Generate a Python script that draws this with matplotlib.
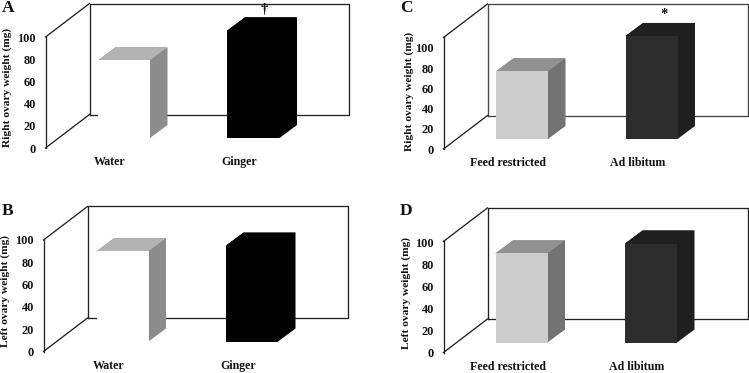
import matplotlib
matplotlib.use("Agg")
import matplotlib.pyplot as plt
from matplotlib.patches import Polygon, Rectangle

plt.rcParams['font.family'] = ['Liberation Serif', 'DejaVu Serif']
plt.rcParams['font.weight'] = 'bold'

W, H = 749, 373
water_ginger = ["Water", "Ginger"]
feed_groups = ["Feed restricted", "Ad libitum"]
right_ginger = [70, 97]
left_ginger = [81, 86]
right_feed = [67, 102]
left_feed = [81, 90]
ticks = [0, 20, 40, 60, 80, 100]

DX, DY = 17.5, 13      # bar depth px
WDX, WDY = 44, 33.5    # wall depth px
BW = 52                # bar width px
STEP = 129.5           # category spacing px
BASE = 10              # bar floor offset px

panels = [
    dict(letter="A", lx=2, ly=8, labels=water_ginger, vals=right_ginger, ylabel="Right ovary weight (mg)",
         wx=45.5, wy=148, rx=349.5, ty=3.5, scale=1.11, walltop=100, b0=98, ylx=7, yly=87,
         cols=[("#ffffff", "#b3b3b3", "#8c8c8c"), ("#000000", "#000000", "#000000")],
         edge="#222222", mark="†", markgap=8, markdx=2.5),
    dict(letter="B", lx=2, ly=211, labels=water_ginger, vals=left_ginger, ylabel="Left ovary weight (mg)",
         wx=43.5, wy=351.5, rx=348, ty=206.5, scale=1.115, walltop=100, b0=96.5, ylx=5, yly=291,
         cols=[("#ffffff", "#b3b3b3", "#8c8c8c"), ("#000000", "#000000", "#000000")],
         edge="#222222", mark=None, markgap=0, markdx=0),
    dict(letter="C", lx=400, ly=8, labels=feed_groups, vals=right_feed, ylabel="Right ovary weight (mg)",
         wx=443.5, wy=149, rx=748, ty=4, scale=1.01, walltop=110.4, b0=496, ylx=409, yly=91,
         cols=[("#cccccc", "#919191", "#737373"), ("#2d2d2d", "#1f1f1f", "#1f1f1f")],
         edge="#444444", mark="*", markgap=8, markdx=3.5),
    dict(letter="D", lx=400, ly=211, labels=feed_groups, vals=left_feed, ylabel="Left ovary weight (mg)",
         wx=443.5, wy=352.5, rx=747.5, ty=207.5, scale=1.1, walltop=101, b0=495.5, ylx=406, yly=293,
         cols=[("#cccccc", "#919191", "#737373"), ("#2d2d2d", "#1f1f1f", "#1f1f1f")],
         edge="#222222", mark=None, markgap=0, markdx=0),
]

fig = plt.figure(figsize=(W / 100, H / 100), dpi=100, facecolor="white")

for p in panels:
    ax = fig.add_axes([p["wx"] / W, 1 - p["wy"] / H, (p["rx"] - p["wx"]) / W, (p["wy"] - p["ty"]) / H])
    c0 = p["b0"] + BW / 2
    xlim = ((p["wx"] - c0) / STEP, (p["rx"] - c0) / STEP)
    ax.set_xlim(*xlim)
    s = p["scale"]
    ax.set_ylim(0, (p["wy"] - p["ty"]) / s)
    ux, uy = 1 / STEP, 1 / s
    ax.patch.set_visible(False)
    for sp in ax.spines.values():
        sp.set_visible(False)

    x0, xb, xr = xlim[0], xlim[0] + WDX * ux, xlim[1]
    yb, yt = WDY * uy, p["walltop"] + WDY * uy
    lw = 0.95
    ax.plot([xb, xb, xr, xr, xb], [yb, yt, yt, yb, yb], color=p["edge"], lw=lw, clip_on=False, zorder=1)
    ax.plot([x0, xb], [0, yb], color="#222222", lw=lw, clip_on=False, zorder=1)
    ax.plot([x0, xb], [p["walltop"], yt], color="#222222", lw=lw, clip_on=False, zorder=1)
    ax.plot([x0, x0], [0, p["walltop"]], color="#222222", lw=lw, clip_on=False, zorder=1)

    base = BASE * uy
    for i, v in enumerate(p["vals"]):
        front, top, side = p["cols"][i]
        l, r = i - BW / 2 * ux, i + BW / 2 * ux
        dx, dy = DX * ux, DY * uy
        # silhouette first so the faces leave no seams
        ax.add_patch(Polygon([(r, base), (r + dx, base + dy), (r + dx, base + v + dy), (l + dx, base + v + dy),
                              (l, base + v), (l + 2 * ux, base + v - 2 * uy), (r - 2 * ux, base + 2 * uy)],
                             fc=side, ec="none", zorder=2, clip_on=False))
        ax.add_patch(Polygon([(l, base + v), (l + dx, base + v + dy), (r + dx, base + v + dy), (r, base + v)],
                             fc=top, ec="none", zorder=2, clip_on=False))
        ax.add_patch(Rectangle((l, base), r - l, v, fc=front, ec="none", zorder=3, clip_on=False))

    if p["mark"]:
        i = 1
        ax.annotate(p["mark"], (i + 0.5 * DX * ux, base + p["vals"][i] + DY * uy), xytext=(p["markdx"], p["markgap"]),
                    textcoords="offset pixels", ha="center", va="center", fontsize=10.5, color="#111111",
                    annotation_clip=False, zorder=5)

    ax.set_yticks(ticks)
    ax.set_yticklabels([str(t) for t in ticks], fontsize=8.8, color="#111111")
    ax.set_xticks([i - 14 * ux for i in range(2)])
    ax.set_xticklabels(p["labels"], fontsize=8.6, color="#111111")
    ax.tick_params(axis="y", length=0, pad=7)
    ax.tick_params(axis="x", length=0, pad=6)

    fig.text(p["lx"] / W, 1 - p["ly"] / H, p["letter"], fontsize=12.5, va="center", ha="left", color="#111111")
    fig.text(p["ylx"] / W, 1 - p["yly"] / H, p["ylabel"], rotation=90, fontsize=8.2, va="center", ha="center",
             color="#111111")

fig.savefig("out.png", dpi=100)
